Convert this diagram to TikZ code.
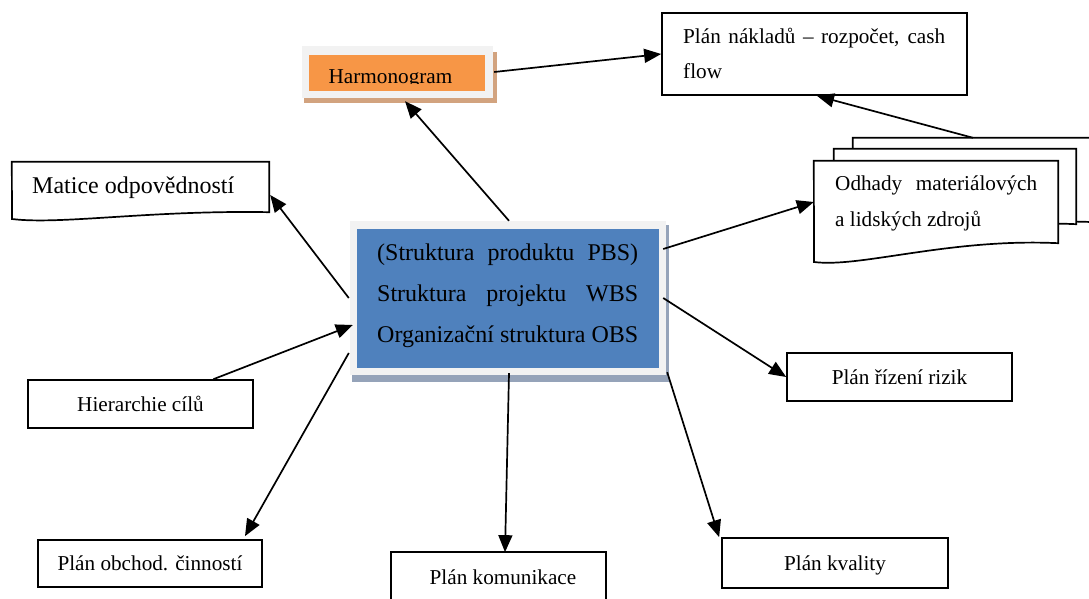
\documentclass[tikz,border=0pt]{standalone}
\usepackage{fontspec}
\setmainfont{Liberation Serif}
\usetikzlibrary{arrows.meta}
\definecolor{panel}{HTML}{F2F2F2}
\definecolor{corefill}{HTML}{4F81BD}
\definecolor{coreshadow}{RGB}{149,163,185}
\definecolor{harmfill}{HTML}{F79646}
\definecolor{harmshadow}{RGB}{210,163,127}
\begin{document}
\begin{tikzpicture}[x=1pt,y=-1pt,
  plan/.style={draw, line width=1.7pt, fill=white, inner sep=0pt,
    text height=14pt, text depth=0pt, font=\fontsize{21.2}{25}\selectfont},
  frame/.style={inner sep=0pt},
  outline/.style={draw, line width=1.7pt, fill=white},
  txt/.style={inner sep=0pt, anchor=base west, font=\fontsize{21.2}{25}\selectfont},
  coretxt/.style={txt, font=\fontsize{24}{28}\selectfont},
  link/.style={line width=1.7pt, -{Triangle[length=17pt,width=14pt]}},
]
\useasboundingbox (0,0) rectangle (1089,599);

% central block: shadow, light panel, blue face
\node[frame, fill=coreshadow, minimum width=317pt, minimum height=157pt] (coreShade) at (510.5,303.5) {};
\node[frame, fill=panel, minimum width=316pt, minimum height=154pt] (core) at (508,298) {};
\node[frame, fill=corefill, minimum width=302pt, minimum height=139pt] (coreFace) at (508,298.5) {};
\node[coretxt] (pbs) at (377,260) {\makebox[261pt][s]{(Struktura produktu PBS)}};
\node[coretxt] (wbs) at (377,301) {\makebox[261pt][s]{Struktura projektu WBS}};
\node[coretxt] (obs) at (377,342) {\makebox[261pt][s]{Organizační struktura OBS}};

% Harmonogram block
\node[frame, fill=harmshadow, minimum width=193pt, minimum height=51pt] (harmShade) at (400.5,77.5) {};
\node[frame, fill=panel, minimum width=191pt, minimum height=52pt] (harm) at (397.5,72) {};
\node[frame, fill=harmfill, minimum width=176pt, minimum height=36pt] (harmFace) at (397,73) {};
\begin{scope}
  \clip (309,55) rectangle (485,84);
  \node[txt, anchor=base] (harmT) at (390.5,83.5) {Harmonogram};
\end{scope}

% cost plan
\node[plan, minimum width=305pt, minimum height=82pt] (nak) at (814.5,54) {};
\node[txt] (nakA) at (683,44) {\makebox[262pt][s]{Plán nákladů – rozpočet, cash}};
\node[txt] (nakB) at (683,79) {flow};

% stack of documents
\node[frame, minimum width=242pt, minimum height=84pt] (odh3) at (974,180) {};
\draw[outline] (odh3.north west) -- (odh3.north east) -- (odh3.south east)
  .. controls (990,217) and (900,247) .. (853,241) -- cycle;
\node[frame, minimum width=242pt, minimum height=75pt] (odh2) at (955,186.5) {};
\draw[outline] (odh2.north west) -- (odh2.north east) -- (odh2.south east)
  .. controls (970,219) and (880,249) .. (834,243) -- cycle;
\node[frame, minimum width=244pt, minimum height=82pt] (odh) at (936,202) {};
\draw[outline] (odh.north west) -- (odh.north east) -- (odh.south east)
  .. controls (950,238) and (860,268) .. (814,262) -- cycle;
\node[txt] (odhA) at (835,190) {\makebox[202pt][s]{Odhady materiálových}};
\node[txt] (odhB) at (835,226) {a lidských zdrojů};

% responsibility matrix (document shape)
\node[frame, minimum width=257pt, minimum height=50pt] (mat) at (140.5,187) {};
\draw[outline] (mat.north west) -- (mat.north east) -- (mat.south east)
  .. controls (150,210) and (60,225) .. (12,219) -- cycle;
\node[txt, font=\fontsize{24}{28}\selectfont] (matT) at (32,193) {Matice odpovědností};

% plain boxes
\node[plan, minimum width=225pt, minimum height=48pt] (hie) at (140.5,404) {Hierarchie cílů};
\node[plan, minimum width=224pt, minimum height=47pt] (obc) at (150,563.5) {Plán obchod. činností};
\node[plan, minimum width=225pt, minimum height=48pt] (riz) at (899.5,377) {Plán řízení rizik};
\node[plan, minimum width=226pt, minimum height=50pt] (kva) at (835,563) {Plán kvality};
\node[plan, draw=none, fill=none, minimum width=213pt, minimum height=48pt] (kom) at (498.5,577) {\hspace*{9pt}Plán komunikace};
\draw[line width=1.7pt] ([yshift=-30pt]kom.south west) -- (kom.north west)
  -- (kom.north east) -- ([yshift=-30pt]kom.south east);

% connectors
\draw[link] ([xshift=1pt]core.north) -- ([shift={(7.5pt,-3pt)}]harm.south);
\draw[link] ([xshift=1pt]harm.east) -- (nak.west);
\draw[link] ([xshift=-1pt]odh3.north) -- ([xshift=2.5pt]nak.south);
\draw[link] ([shift={(-3pt,49pt)}]core.east) -- (odh.west);
\draw[link] ([xshift=-3pt]core.east) -- (riz.west);
\draw[link] ([shift={(1pt,3pt)}]core.south east) -- ([xshift=-2pt]kva.north west);
\draw[link] ([shift={(1pt,2pt)}]core.south) -- ([xshift=6.5pt]kom.north);
\draw[link] ([xshift=73pt]hie.north) -- ([shift={(3pt,-27pt)}]core.west);
\draw[link] ([shift={(-1pt,-55pt)}]core.west) -- ([shift={(95pt,3pt)}]obc.north);
\draw[link] ([xshift=-1pt]core.west) -- ([shift={(1pt,-8pt)}]mat.east);
\end{tikzpicture}
\end{document}
